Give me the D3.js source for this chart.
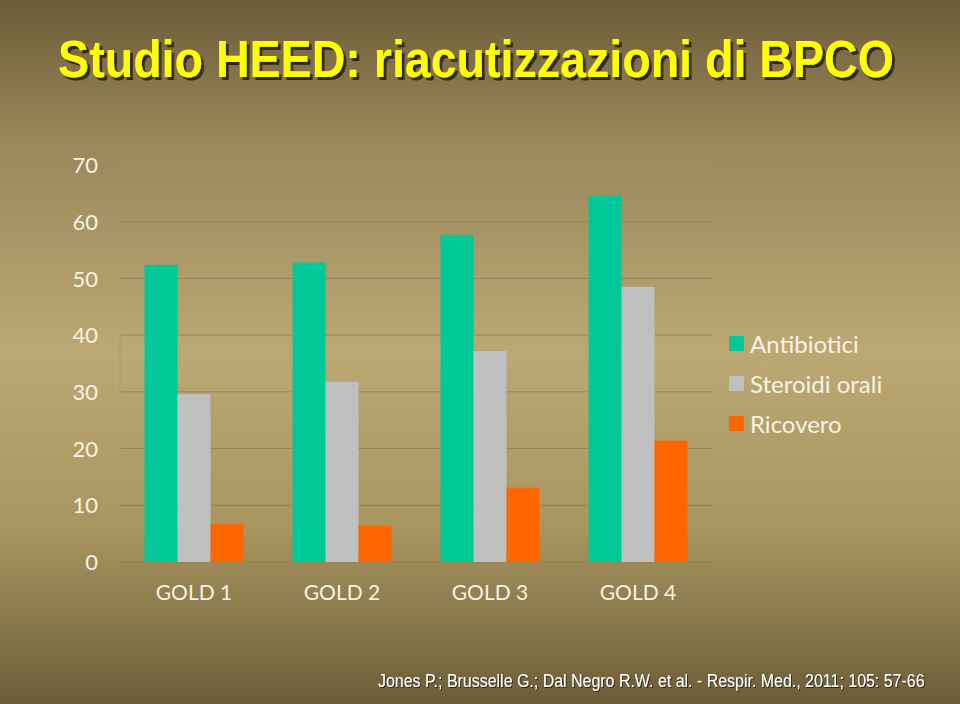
<!DOCTYPE html>
<html><head><meta charset="utf-8">
<script src="https://cdn.jsdelivr.net/npm/d3@7"></script>
<style>html,body{margin:0;padding:0;background:#8f7d50;}svg{display:block;}</style>
</head><body>
<script>
const categories = ["GOLD 1","GOLD 2","GOLD 3","GOLD 4"];
const seriesNames = ["Antibiotici","Steroidi orali","Ricovero"];
const antibiotici = [52.4, 52.8, 57.7, 64.6];
const steroidi = [29.6, 31.8, 37.2, 48.5];
const ricovero = [6.7, 6.4, 13.1, 21.4];
const yTicks = [0,10,20,30,40,50,60,70];
const colors = ["#00c896","#c0c0c0","#ff6600"];
const titleText = "Studio HEED: riacutizzazioni di BPCO";
const citation = "Jones P.; Brusselle G.; Dal Negro R.W. et al. - Respir. Med., 2011; 105: 57-66";

const W=960,H=704;
const svg=d3.select("body").append("svg").attr("width",W).attr("height",H);
const defs=svg.append("defs");
const g=defs.append("linearGradient").attr("id","bg").attr("x1",0).attr("y1",0).attr("x2",0).attr("y2",1);
[[0,"#6c5d37"],[0.2,"#9a875a"],[0.5,"#bca874"],[0.75,"#a8955f"],[1,"#6b5d38"]].forEach(s=>g.append("stop").attr("offset",s[0]).attr("stop-color",s[1]));
const f1=defs.append("filter").attr("id","sh").attr("x","-10%").attr("y","-30%").attr("width","120%").attr("height","160%");
f1.append("feDropShadow").attr("dx",3).attr("dy",3).attr("stdDeviation",0.6).attr("flood-color","#241e0c").attr("flood-opacity",0.9);
const f2=defs.append("filter").attr("id","sh2").attr("x","-10%").attr("y","-30%").attr("width","120%").attr("height","160%");
f2.append("feDropShadow").attr("dx",1).attr("dy",1).attr("stdDeviation",0.4).attr("flood-color","#1e1a0a").attr("flood-opacity",0.9);
svg.append("rect").attr("width",W).attr("height",H).attr("fill","url(#bg)");

function fitText(sel, target, anchorX, baseY){
  const len = sel.node().getComputedTextLength();
  const s = target/len;
  sel.attr("x",0).attr("y",0).attr("transform",`translate(${anchorX},${baseY}) scale(${s},1)`);
}

// title
const title=svg.append("text").attr("text-anchor","middle")
 .attr("font-family","Liberation Sans, Arial, sans-serif").attr("font-weight","bold").attr("font-size",51)
 .attr("fill","#ffff00").attr("filter","url(#sh)").text(titleText);
fitText(title, 836, 476, 77);

const x0=120,x1=712,yTop=165,yBot=562;
const x=d3.scaleBand().domain(categories).range([x0,x1]).padding(0);
const y=d3.scaleLinear().domain([0,70]).range([yBot,yTop]);
const inner=d3.scaleBand().domain(seriesNames).range([0,99]);

// grid
const grid=svg.append("g");
grid.selectAll("line").data(yTicks).join("line")
 .attr("x1",x0).attr("x2",x1).attr("y1",d=>y(d)).attr("y2",d=>y(d))
 .attr("stroke",d=>d===70?"#a8956a":"#8d7b54").attr("stroke-width",1).attr("opacity",d=>d===70?0.6:0.75);
grid.append("line").attr("x1",x0).attr("x2",x0).attr("y1",yTop).attr("y2",yBot).attr("stroke","#a8956a").attr("opacity",0.6);

const lblFont="Lato, 'Open Sans', sans-serif", lblCol="#f8f3e2";
// y axis labels
const yAxis=d3.axisLeft(y).tickValues(yTicks).tickSize(0).tickPadding(0);
const ya=svg.append("g").attr("transform",`translate(98,0)`).call(yAxis);
ya.select(".domain").remove();
ya.selectAll("text").attr("font-family",lblFont).attr("font-size",22).attr("fill",lblCol).attr("dy","0.35em");

// x axis labels
const xAxis=d3.axisBottom(x).tickSize(0).tickPadding(0);
const xa=svg.append("g").attr("transform",`translate(0,${yBot+23})`).call(xAxis);
xa.select(".domain").remove();
xa.selectAll("text").attr("font-family",lblFont).attr("font-size",21).attr("fill",lblCol).attr("dy","0.7em");

// bars
const allSeries=[antibiotici,steroidi,ricovero];
const rows=categories.map((c,i)=>seriesNames.map((s,j)=>({c,s,j,v:allSeries[j][i]})));
const grp=svg.append("g").selectAll("g").data(rows).join("g")
 .attr("transform",(d,i)=>`translate(${x(categories[i])+(x.bandwidth()-99)/2},0)`);
grp.selectAll("rect").data(d=>d).join("rect")
 .attr("x",d=>inner(d.s)).attr("width",inner.bandwidth())
 .attr("y",d=>y(d.v)).attr("height",d=>yBot-y(d.v)).attr("fill",d=>colors[d.j]);

// legend
const lg=svg.append("g").attr("transform","translate(729,336)");
const li=lg.selectAll("g").data(seriesNames).join("g").attr("transform",(d,i)=>`translate(0,${i*40})`);
li.append("rect").attr("width",15).attr("height",15).attr("fill",(d,i)=>colors[i]);
li.append("text").attr("x",21).attr("y",8).attr("dy","0.36em").attr("font-family",lblFont)
 .attr("font-size",24).attr("fill",lblCol).text(d=>d);

// citation
const cit=svg.append("text").attr("font-family","Liberation Sans, Arial, sans-serif").attr("font-size",18)
 .attr("fill","#ffffff").attr("filter","url(#sh2)").text(citation);
fitText(cit, 547, 378, 687);
</script>
</body></html>
